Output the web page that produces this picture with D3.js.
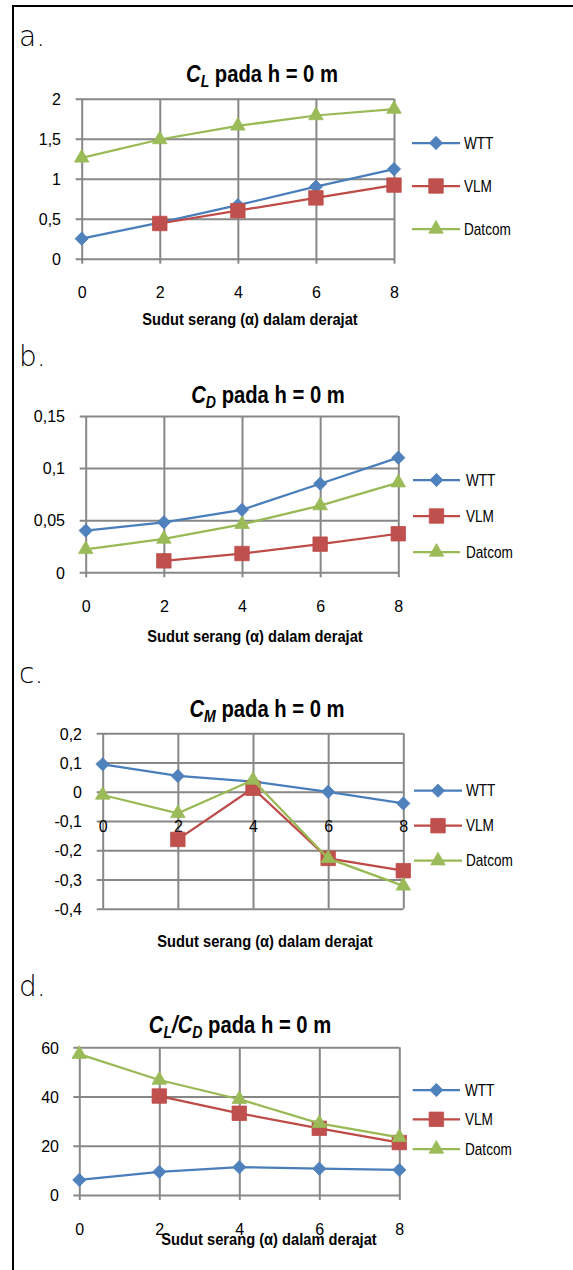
<!DOCTYPE html>
<html>
<head>
<meta charset="utf-8">
<script src="https://cdn.jsdelivr.net/npm/d3@7"></script>
<style>
  body { margin: 0; background: #fff; }
</style>
</head>
<body>
<div id="chart"></div>
<script>
// angle of attack, degrees
const alpha = [0, 2, 4, 6, 8];
const seriesNames = ["WTT", "VLM", "Datcom"];

// a. C_L
const clWTT = [0.25, 0.45, 0.67, 0.9, 1.12];
const clVLM = [null, 0.44, 0.6, 0.76, 0.92];
const clDatcom = [1.26, 1.49, 1.66, 1.79, 1.87];
const clTicks = [0, 0.5, 1, 1.5, 2];

// b. C_D
const cdWTT = [0.04, 0.048, 0.06, 0.085, 0.11];
const cdVLM = [null, 0.011, 0.018, 0.027, 0.037];
const cdDatcom = [0.022, 0.032, 0.046, 0.064, 0.086];
const cdTicks = [0, 0.05, 0.1, 0.15];

// c. C_M
const cmWTT = [0.094, 0.054, 0.035, 0.0, -0.04];
const cmVLM = [null, -0.163, 0.012, -0.228, -0.27];
const cmDatcom = [-0.011, -0.074, 0.04, -0.228, -0.322];
const cmTicks = [-0.4, -0.3, -0.2, -0.1, 0, 0.1, 0.2];

// d. C_L/C_D
const ldWTT = [6.1, 9.4, 11.3, 10.7, 10.2];
const ldVLM = [null, 40.2, 33.2, 27.1, 21.3];
const ldDatcom = [57.2, 46.7, 38.9, 29.1, 23.4];
const ldTicks = [0, 20, 40, 60];

const colors = {
  WTT: { line: "#4a7ebb", fill: "#4f81bd" },
  VLM: { line: "#be4b48", fill: "#c0504d" },
  Datcom: { line: "#98b954", fill: "#9bbb59" }
};
const symbols = {
  WTT: d3.symbol().type(d3.symbolSquare).size(88),
  VLM: d3.symbol().type(d3.symbolSquare).size(210),
  Datcom: d3.symbol().type(d3.symbolTriangle).size(92)
};
const rotate = { WTT: 45, VLM: 0, Datcom: 0 };

const sans = "'Liberation Sans', Arial, sans-serif";
const gridColor = "#878787";

const width = 573, height = 1270;
const svg = d3.select("#chart").append("svg")
  .attr("width", width)
  .attr("height", height);

// frame (open on the right and bottom, like the cropped figure)
svg.append("line").attr("x1", 12).attr("x2", width).attr("y1", 6).attr("y2", 6)
  .attr("stroke", "#000").attr("stroke-width", 2);
svg.append("line").attr("x1", 13).attr("x2", 13).attr("y1", 5).attr("y2", height)
  .attr("stroke", "#000").attr("stroke-width", 2);

// condensed text: squeeze a normal font horizontally
function narrowText(parent, x, y, sx, anchor) {
  return parent.append("g")
    .attr("transform", "translate(" + x + "," + y + ") scale(" + sx + ",1)")
    .append("text")
    .attr("text-anchor", anchor)
    .style("font-family", sans);
}

const charts = [
  {
    letter: "a.", letterY: 46,
    title: [["C", "main"], ["L", "sub"], [" pada h = 0 m", "rest"]], titleX: 262, titleY: 82,
    data: [clWTT, clVLM, clDatcom], ticks: clTicks,
    xRange: [81.7, 394], yDomain: [0, 2], yRange: [258.7, 98.7],
    axisAt: 0, tickDown: 5, xLabelY: 298, yLabelRight: 61,
    axisTitleX: 250, axisTitleY: 325,
    legendY: [143, 186, 229], legendX: [412, 460], legendTextX: 464
  },
  {
    letter: "b.", letterY: 366,
    title: [["C", "main"], ["D", "sub"], [" pada h = 0 m", "rest"]], titleX: 268, titleY: 403,
    data: [cdWTT, cdVLM, cdDatcom], ticks: cdTicks,
    xRange: [85.7, 398.3], yDomain: [0, 0.15], yRange: [572.3, 416],
    axisAt: 0, tickDown: 5, xLabelY: 612, yLabelRight: 65,
    axisTitleX: 255, axisTitleY: 642,
    legendY: [480, 516, 552], legendX: [413, 460], legendTextX: 466
  },
  {
    letter: "c.", letterY: 683,
    title: [["C", "main"], ["M", "sub"], [" pada h = 0 m", "rest"]], titleX: 267, titleY: 717,
    data: [cmWTT, cmVLM, cmDatcom], ticks: cmTicks,
    xRange: [102.7, 403.3], yDomain: [-0.4, 0.2], yRange: [908.7, 733.3],
    axisAt: 0, tickDown: 0, xLabelY: 832, yLabelRight: 82,
    axisTitleX: 265, axisTitleY: 947,
    legendY: [790.7, 825.7, 860.7], legendX: [414, 462], legendTextX: 466
  },
  {
    letter: "d.", letterY: 996,
    title: [["C", "main"], ["L", "sub"], ["/C", "back"], ["D", "sub"], [" pada h = 0 m", "rest"]], titleX: 240, titleY: 1033,
    data: [ldWTT, ldVLM, ldDatcom], ticks: ldTicks,
    xRange: [79.3, 399.3], yDomain: [0, 60], yRange: [1195, 1047.3],
    axisAt: 0, tickDown: 5, xLabelY: 1235, yLabelRight: 59,
    axisTitleX: 269, axisTitleY: 1245,
    legendY: [1090, 1119.3, 1149], legendX: [412.7, 460], legendTextX: 465
  }
];

const fmt = d => String(d).replace(".", ",");

charts.forEach(c => {
  const x = d3.scaleLinear().domain([0, 8]).range(c.xRange);
  const y = d3.scaleLinear().domain(c.yDomain).range(c.yRange);
  const w = c.xRange[1] - c.xRange[0];
  const h = c.yRange[0] - c.yRange[1];
  const g = svg.append("g");

  // panel letter
  g.append("text")
    .attr("x", 19).attr("y", c.letterY)
    .style("font-family", "'DejaVu Sans', sans-serif")
    .style("font-weight", 200)
    .style("font-size", "28px")
    .text(c.letter);

  // title with subscripts
  const t = narrowText(g, c.titleX, c.titleY, 0.88, "middle")
    .style("font-weight", "bold")
    .style("font-size", "23px");
  c.title.forEach(([s, kind]) => {
    const ts = t.append("tspan").text(s);
    if (kind === "main") ts.style("font-style", "italic");
    if (kind === "sub") ts.style("font-style", "italic").style("font-size", "16px").attr("dy", 5);
    if (kind === "back") ts.style("font-style", "italic").attr("dy", -5);
    if (kind === "rest") ts.attr("dy", -5);
  });

  // horizontal grid
  const hGrid = g.append("g")
    .attr("transform", "translate(" + (c.xRange[0] - 6) + ",0)")
    .call(d3.axisRight(y).tickValues(c.ticks).tickSize(w + 6).tickFormat(""));
  hGrid.select(".domain").remove();
  hGrid.selectAll("line").attr("stroke", gridColor).attr("stroke-width", 2);

  // vertical grid
  const vGrid = g.append("g")
    .attr("transform", "translate(0," + (c.yRange[0] + c.tickDown) + ")")
    .call(d3.axisTop(x).tickValues(alpha).tickSize(h + c.tickDown).tickFormat(""));
  vGrid.select(".domain").remove();
  vGrid.selectAll("line").attr("stroke", gridColor).attr("stroke-width", 2);

  // y labels
  const yAxis = g.append("g")
    .attr("transform", "translate(" + c.yLabelRight + ",0)")
    .call(d3.axisLeft(y).tickValues(c.ticks).tickSize(0).tickPadding(0).tickFormat(fmt));
  yAxis.select(".domain").remove();
  yAxis.selectAll("text")
    .attr("dy", "0.36em")
    .style("font-family", sans).style("font-size", "16px").attr("fill", "#000");

  // x labels
  const xAxis = g.append("g")
    .attr("transform", "translate(0," + y(c.axisAt) + ")")
    .call(d3.axisBottom(x).tickValues(alpha).tickSize(0).tickFormat(d3.format("d")));
  xAxis.select(".domain").remove();
  xAxis.selectAll("text")
    .attr("y", c.xLabelY - y(c.axisAt)).attr("dy", 0)
    .style("font-family", sans).style("font-size", "16px").attr("fill", "#000");

  // axis title
  narrowText(g, c.axisTitleX, c.axisTitleY, 0.89, "middle")
    .style("font-weight", "bold")
    .style("font-size", "16.5px")
    .text("Sudut serang (\u03b1) dalam derajat");

  // series
  const line = d3.line()
    .defined(d => d.v != null)
    .x(d => x(d.a))
    .y(d => y(d.v));

  seriesNames.forEach((name, si) => {
    const pts = alpha.map((a, i) => ({ a: a, v: c.data[si][i] }));
    g.append("path")
      .datum(pts)
      .attr("d", line)
      .attr("fill", "none")
      .attr("stroke", colors[name].line)
      .attr("stroke-width", 2.25);
    g.selectAll(".m" + name)
      .data(pts.filter(d => d.v != null))
      .enter()
      .append("path")
      .attr("class", "m" + name)
      .attr("d", symbols[name])
      .attr("transform", d => "translate(" + x(d.a) + "," + y(d.v) + ") rotate(" + rotate[name] + ")")
      .attr("fill", colors[name].fill)
      .attr("stroke", colors[name].line)
      .attr("stroke-width", 0.75);

    // legend
    const ly = c.legendY[si];
    g.append("line")
      .attr("x1", c.legendX[0]).attr("x2", c.legendX[1])
      .attr("y1", ly).attr("y2", ly)
      .attr("stroke", colors[name].line).attr("stroke-width", 2.25);
    g.append("path")
      .attr("d", symbols[name])
      .attr("transform", "translate(" + (c.legendX[0] + c.legendX[1]) / 2 + "," + ly + ") rotate(" + rotate[name] + ")")
      .attr("fill", colors[name].fill)
      .attr("stroke", colors[name].line)
      .attr("stroke-width", 0.75);
    narrowText(g, c.legendTextX, ly, 0.85, "start")
      .attr("dy", "0.36em")
      .style("font-size", "16px")
      .text(name);
  });
});
</script>
</body>
</html>
